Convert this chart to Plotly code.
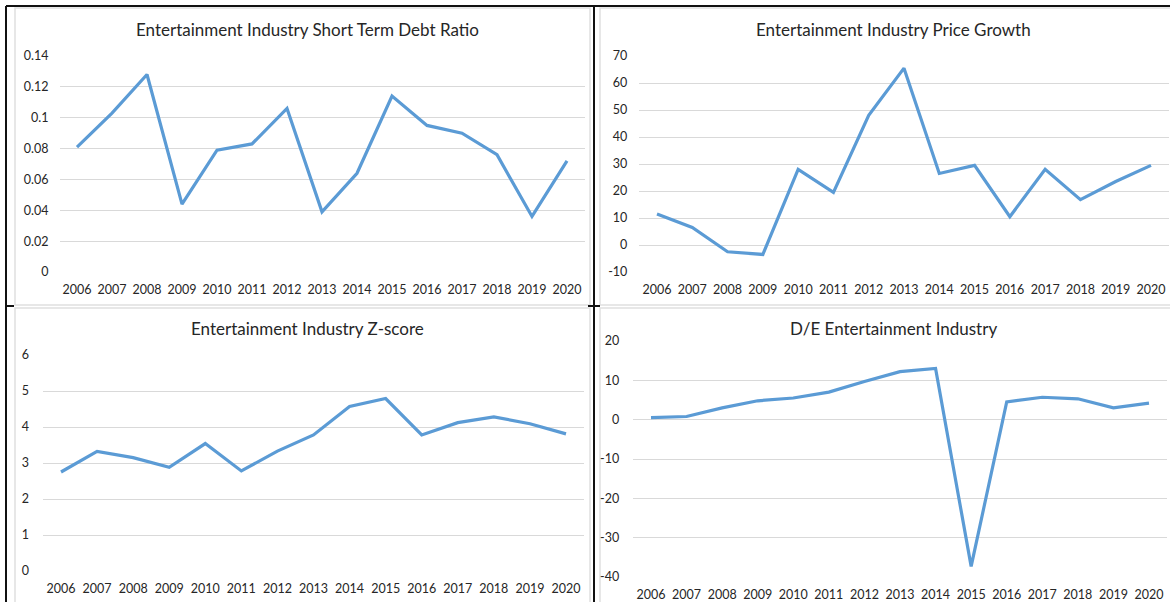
import plotly.graph_objects as go

W, H = 1170, 602

years = [2006, 2007, 2008, 2009, 2010, 2011, 2012, 2013, 2014, 2015, 2016, 2017, 2018, 2019, 2020]
short_term_debt_ratio = [0.081, 0.103, 0.128, 0.044, 0.079, 0.083, 0.106, 0.039, 0.064, 0.114, 0.095, 0.090, 0.076, 0.036, 0.072]
price_growth = [11.5, 6.5, -2.5, -3.5, 28.0, 19.5, 48.0, 65.5, 26.5, 29.5, 10.5, 28.0, 16.8, 23.5, 29.5]
z_score = [2.75, 3.32, 3.15, 2.88, 3.54, 2.78, 3.33, 3.78, 4.57, 4.79, 3.78, 4.12, 4.28, 4.09, 3.81]
de_ratio = [0.5, 0.8, 3.0, 4.8, 5.5, 7.0, 9.7, 12.2, 13.0, -37.3, 4.5, 5.7, 5.3, 3.0, 4.2]

titles = ["Entertainment Industry Short Term Debt Ratio",
          "Entertainment Industry Price Growth",
          "Entertainment Industry Z-score",
          "D/E Entertainment Industry"]

y1_ticks = [0, 0.02, 0.04, 0.06, 0.08, 0.1, 0.12, 0.14]
y1_labels = ["0", "0.02", "0.04", "0.06", "0.08", "0.1", "0.12", "0.14"]
y2_ticks = [-10, 0, 10, 20, 30, 40, 50, 60, 70]
y3_ticks = [0, 1, 2, 3, 4, 5, 6]
y4_ticks = [-40, -30, -20, -10, 0, 10, 20]

LINE = "#5B9BD5"
GRID = "#D9D9D9"
TXT = "#262626"
FONT = "Lato, 'Open Sans', sans-serif"


def px_x(p):
    return p / W


def px_y(p):
    return 1 - p / H


def xdom(first, last):
    sp = (last - first) / 14
    return [px_x(first - sp / 2), px_x(last + sp / 2)]


panels = [
    dict(x0=77, x1=567, ytop=56, ybot=272, yr=[0, 0.14], tv=y1_ticks, tt=y1_labels, data=short_term_debt_ratio, tx=307, ty=29, so=10),
    dict(x0=657, x1=1151, ytop=56, ybot=272, yr=[-10, 70], tv=y2_ticks, tt=[str(v) for v in y2_ticks], data=price_growth, tx=893, ty=29, so=11),
    dict(x0=61, x1=566, ytop=355, ybot=571, yr=[0, 6], tv=y3_ticks, tt=[str(v) for v in y3_ticks], data=z_score, tx=307, ty=328, so=13),
    dict(x0=651, x1=1149, ytop=341, ybot=577, yr=[-40, 20], tv=y4_ticks, tt=[str(v) for v in y4_ticks], data=de_ratio, tx=893, ty=328, so=13),
]

fig = go.Figure()
layout = dict(
    template="none",
    width=W, height=H,
    margin=dict(l=0, r=0, t=0, b=0, pad=0, autoexpand=False),
    paper_bgcolor="white", plot_bgcolor="white",
    showlegend=False,
    font=dict(family=FONT, color=TXT, size=12),
)

annotations = []
for i, p in enumerate(panels, start=1):
    sfx = "" if i == 1 else str(i)
    fig.add_trace(go.Scatter(
        x=years, y=p["data"], mode="lines",
        line=dict(color=LINE, width=3.2),
        xaxis="x" + sfx, yaxis="y" + sfx, hoverinfo="skip",
    ))
    layout["xaxis" + sfx] = dict(
        domain=xdom(p["x0"], p["x1"]), anchor="y" + sfx, automargin=False,
        range=[2005.5, 2020.5], tickvals=years, ticktext=[str(y) for y in years],
        showgrid=False, zeroline=False, showline=False, ticks="",
        tickfont=dict(size=12.5, color=TXT), ticklabelstandoff=8, fixedrange=True,
    )
    layout["yaxis" + sfx] = dict(
        domain=[px_y(p["ybot"]), px_y(p["ytop"])], anchor="x" + sfx, automargin=False,
        range=p["yr"], tickvals=p["tv"], ticktext=p["tt"],
        showgrid=True, gridcolor=GRID, gridwidth=1, zeroline=False, showline=False, ticks="",
        tickfont=dict(size=12.5, color=TXT), ticklabelstandoff=p["so"], fixedrange=True,
    )
    annotations.append(dict(
        text=titles[i - 1], x=px_x(p["tx"]), y=px_y(p["ty"]), xref="paper", yref="paper",
        xanchor="center", yanchor="middle", showarrow=False,
        font=dict(size=17, color=TXT, family=FONT),
    ))

layout["annotations"] = annotations

shapes = []
for (a, b, c, d) in [(15, 8, 590, 305), (600, 8, 1172, 305), (15, 308, 590, 604), (600, 308, 1172, 604)]:
    shapes.append(dict(type="rect", xref="paper", yref="paper",
                       x0=px_x(a), x1=px_x(c), y0=px_y(d), y1=px_y(b),
                       line=dict(color="#E0E0E0", width=1.5), layer="below"))
black = dict(color="#111111", width=2)
shapes.append(dict(type="line", xref="paper", yref="paper", x0=px_x(6), x1=1, y0=px_y(6), y1=px_y(6), line=black))
shapes.append(dict(type="line", xref="paper", yref="paper", x0=px_x(6), x1=px_x(6), y0=px_y(6), y1=0, line=black))
shapes.append(dict(type="line", xref="paper", yref="paper", x0=px_x(594), x1=px_x(594), y0=px_y(6), y1=0, line=black))
shapes.append(dict(type="line", xref="paper", yref="paper", x0=px_x(6), x1=px_x(14), y0=px_y(306), y1=px_y(306), line=black))
shapes.append(dict(type="line", xref="paper", yref="paper", x0=px_x(588), x1=px_x(600), y0=px_y(306), y1=px_y(306), line=black))
layout["shapes"] = shapes

fig.update_layout(**layout)
fig.write_html("out.html")
